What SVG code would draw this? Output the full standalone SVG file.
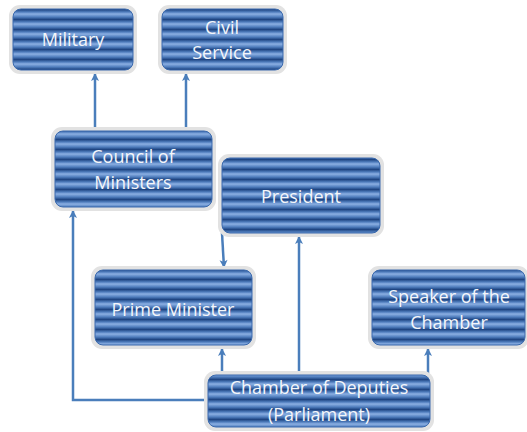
<svg xmlns="http://www.w3.org/2000/svg" width="527" height="432" viewBox="0 0 527 432">
  <defs>
    <linearGradient id="band" x1="0" y1="0" x2="0" y2="1">
      <stop offset="0" stop-color="#8cb0e3"/>
      <stop offset="0.3" stop-color="#4f7dbd"/>
      <stop offset="0.55" stop-color="#1f4582"/>
      <stop offset="0.8" stop-color="#4f7dbd"/>
      <stop offset="1" stop-color="#8cb0e3"/>
    </linearGradient>
    <pattern id="stripes" patternUnits="userSpaceOnUse" x="0" y="4" width="20" height="10">
      <rect width="20" height="10" fill="url(#band)"/>
    </pattern>
    <marker id="arrow" markerUnits="userSpaceOnUse" markerWidth="10" markerHeight="10" refX="9" refY="5" orient="auto">
      <path d="M1,1 L9,5 L1,9 L3,5 z" fill="#4a7ebb"/>
    </marker>
    <style>
      .halo { fill: #e2e2e2; }
      .box { fill: url(#stripes); stroke: #3a69ad; stroke-width: 1; }
      .label { font-family: "Open Sans", "Liberation Sans", sans-serif; font-size: 18px; fill: #f4f6fa; text-anchor: middle; }
      .link { fill: none; stroke: #4a7ebb; stroke-width: 2.5; }
    </style>
  </defs>

  <rect width="527" height="432" fill="#ffffff"/>

  <!-- connectors -->
  <g id="connectors">
    <path class="link" d="M95,131 L95,73" marker-end="url(#arrow)"/>
    <path class="link" d="M186,131 L186,73" marker-end="url(#arrow)"/>
    <path class="link" d="M208,400 L73,400 L73,210" marker-end="url(#arrow)"/>
    <path class="link" d="M299,375 L299,236" marker-end="url(#arrow)"/>
    <path class="link" d="M222,375 L222,348" marker-end="url(#arrow)"/>
    <path class="link" d="M428,375 L428,348" marker-end="url(#arrow)"/>
    <path class="link" d="M222,233 L224,268" marker-end="url(#arrow)"/>
  </g>

  <g id="military">
    <rect class="halo" x="9" y="5" width="128" height="69" rx="11"/>
    <rect class="box" x="13" y="9" width="120" height="61" rx="8"/>
    <text class="label" x="73" y="46">Military</text>
  </g>

  <g id="civil-service">
    <rect class="halo" x="158" y="5" width="129" height="69" rx="11"/>
    <rect class="box" x="162" y="9" width="121" height="61" rx="8"/>
    <text class="label" x="222" y="34">Civil</text>
    <text class="label" x="222" y="59">Service</text>
  </g>

  <g id="council-of-ministers">
    <rect class="halo" x="51" y="127" width="165" height="84" rx="11"/>
    <rect class="box" x="55" y="131" width="157" height="76" rx="8"/>
    <text class="label" x="133" y="163">Council of</text>
    <text class="label" x="133" y="189">Ministers</text>
  </g>

  <g id="president">
    <rect class="halo" x="218" y="154" width="166" height="83" rx="11"/>
    <rect class="box" x="222" y="158" width="158" height="75" rx="8"/>
    <text class="label" x="301" y="203">President</text>
  </g>

  <g id="prime-minister">
    <rect class="halo" x="91" y="266" width="165" height="83" rx="11"/>
    <rect class="box" x="95" y="270" width="157" height="75" rx="8"/>
    <text class="label" x="173" y="316">Prime Minister</text>
  </g>

  <g id="speaker">
    <rect class="halo" x="368" y="266" width="161" height="83" rx="11"/>
    <rect class="box" x="372" y="270" width="153" height="75" rx="8"/>
    <text class="label" x="449" y="303">Speaker of the</text>
    <text class="label" x="449" y="329">Chamber</text>
  </g>

  <g id="chamber-of-deputies">
    <rect class="halo" x="204" y="371" width="230" height="60" rx="11"/>
    <rect class="box" x="208" y="375" width="222" height="52" rx="8"/>
    <text class="label" x="319" y="394">Chamber of Deputies</text>
    <text class="label" x="319" y="421">(Parliament)</text>
  </g>
</svg>
